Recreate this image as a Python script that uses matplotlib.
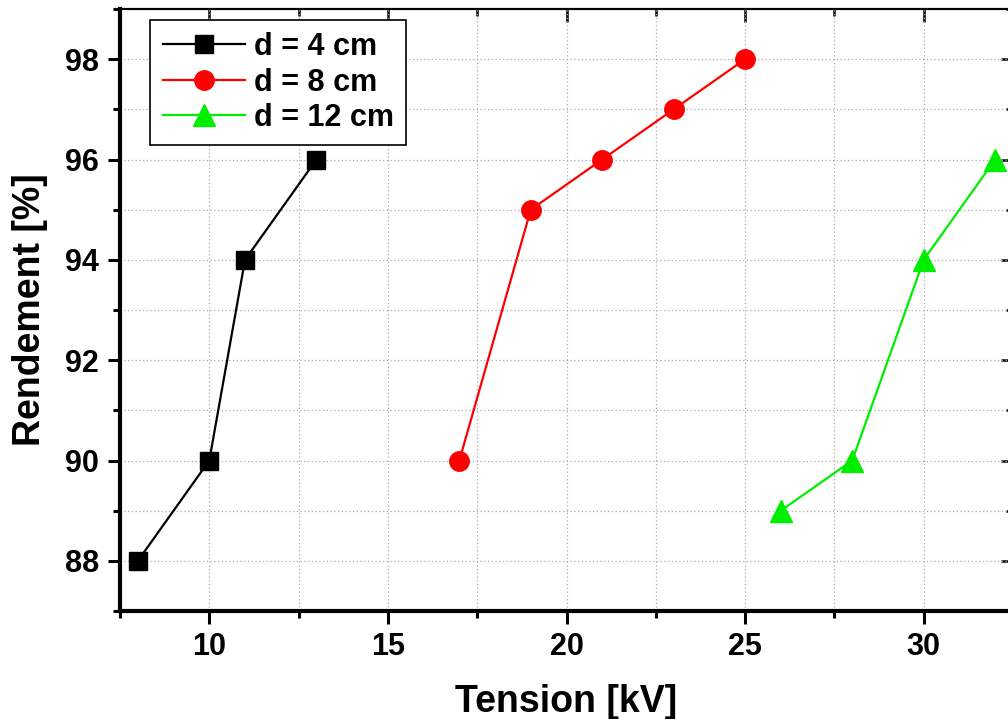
#!/usr/bin/env python3
import matplotlib
matplotlib.use('Agg')
import matplotlib.pyplot as plt
from matplotlib.ticker import MultipleLocator

# DATA
tension_4cm = [8, 10, 11, 13]
rendement_4cm = [88, 90, 94, 96]
tension_8cm = [17, 19, 21, 23, 25]
rendement_8cm = [90, 95, 96, 97, 98]
tension_12cm = [26, 28, 30, 32]
rendement_12cm = [89, 90, 94, 96]
labels = ['d = 4 cm', 'd = 8 cm', 'd = 12 cm']

plt.rcParams['font.family'] = ['Liberation Sans', 'DejaVu Sans']
plt.rcParams['font.weight'] = 'bold'

fig = plt.figure(figsize=(10.08, 7.19), dpi=100)
ax = fig.add_axes([120 / 1008, 108 / 719, 893 / 1008, 602 / 719])

ax.plot(tension_4cm, rendement_4cm, color='black', marker='s', markersize=13,
        linewidth=1.6, label=labels[0], clip_on=False, zorder=3)
ax.plot(tension_8cm, rendement_8cm, color='#ff0000', marker='o', markersize=14,
        linewidth=1.6, label=labels[1], clip_on=False, zorder=3)
ax.plot(tension_12cm, rendement_12cm, color='#00ee00', marker='^', markersize=16,
        linewidth=1.6, label=labels[2], clip_on=False, zorder=3)

ax.set_xlim(7.5, 32.5)
ax.set_ylim(87, 99)
ax.xaxis.set_major_locator(MultipleLocator(5))
ax.xaxis.set_minor_locator(MultipleLocator(2.5))
ax.yaxis.set_major_locator(MultipleLocator(2))
ax.yaxis.set_minor_locator(MultipleLocator(1))

ax.grid(which='both', color='#aaaaaa', linestyle=(0, (1, 2)), linewidth=0.9)
ax.set_axisbelow(True)

for side in ['left', 'bottom']:
    ax.spines[side].set_linewidth(3)
for side in ['top', 'right']:
    ax.spines[side].set_linewidth(1.5)

ax.tick_params(which='major', direction='out', length=9, width=2.2,
               labelsize=22, pad=6)
ax.tick_params(which='minor', direction='out', length=5, width=2.2)

# inward ticks on top and right sides
top = ax.secondary_xaxis('top')
right = ax.secondary_yaxis('right')
for sec in (top, right):
    sec.tick_params(which='major', direction='in', length=9, width=1.8)
    sec.tick_params(which='minor', direction='in', length=5, width=1.8)
    sec.spines[:].set_linewidth(1.5)
top.xaxis.set_major_locator(MultipleLocator(5))
top.xaxis.set_minor_locator(MultipleLocator(2.5))
right.yaxis.set_major_locator(MultipleLocator(2))
right.yaxis.set_minor_locator(MultipleLocator(1))
top.set_xticklabels([])
right.set_yticklabels([])

for lbl in ax.get_xticklabels() + ax.get_yticklabels():
    lbl.set_fontweight('bold')

ax.set_xlabel('Tension [kV]', fontsize=27, fontweight='bold', labelpad=16)
ax.set_ylabel('Rendement [%]', fontsize=27, fontweight='bold', labelpad=12)

leg = ax.legend(loc='upper left', bbox_to_anchor=(0.034, 0.982), fontsize=22,
                frameon=True, fancybox=False, edgecolor='black',
                handlelength=2.7, borderpad=0.4, labelspacing=0.18,
                handletextpad=0.3, borderaxespad=0)
leg.get_frame().set_linewidth(1.2)
leg.get_frame().set_alpha(1)
for txt in leg.get_texts():
    txt.set_fontweight('bold')

fig.savefig('out.png', dpi=100)
